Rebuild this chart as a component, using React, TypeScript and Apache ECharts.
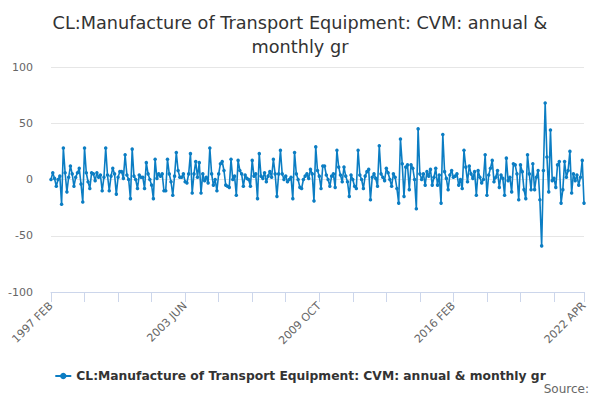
import React, { useEffect, useRef } from "react";
import * as echarts from "echarts";

const TITLE = "CL:Manufacture of Transport Equipment: CVM: annual &\nmonthly gr";
const SERIES_NAME = "CL:Manufacture of Transport Equipment: CVM: annual & monthly gr";
const MONTHS = ["JAN", "FEB", "MAR", "APR", "MAY", "JUN", "JUL", "AUG", "SEP", "OCT", "NOV", "DEC"];
const START_YEAR = 1997;
const START_MONTH = 1; // FEB

// 1997 FEB .. 2003 MAY
const values1997 = [
  0, 6, 1, -6, 0, 3, -22, 28, 6, -11,
  2, 12, 5, -6, 2, 6, 10, -4, -20, 28,
  6, -2, -8, 6, 5, -1, 6, 2, 4, -10,
  2, 28, 4, -10, 3, 10, 5, -13, 2, 7,
  7, 1, 22, 4, 0, -17, 27, 3, 0, -8,
  4, 2, 2, -8, 15, 5, 0, -5, -17, 18,
  1, 5, 3, 5, -10, -10, 18, 5, -2, -14,
  3, 24, 8, 2, 2, 5,
];
// 2003 JUN .. 2009 SEP
const values2003 = [
  -2, -3, 5, 23,
  -12, 5, 16, 2, 15, -12, 5, -1, 2, -3,
  28, 5, -5, 0, -10, 5, 14, 16, 8, -5,
  -6, -7, 18, 0, 3, -14, 17, 8, 5, -6,
  4, 1, 0, -6, 17, 3, 5, -17, 23, 3,
  1, 6, -2, 3, 7, 2, 18, 5, -15, 5,
  26, 5, 0, 3, -2, 0, 2, -17, 24, 5,
  0, -7, -8, 0, 3, 5, 1, 9, 5, -19,
  29, 8,
];
// 2009 OCT .. 2016 JAN
const values2009 = [
  3, -8, 12, 12, 4, 0, -6, 3,
  5, -7, 26, 11, 4, -2, 11, 3, -2, -15,
  4, 0, -6, -8, 26, 4, 0, -8, 3, 7,
  9, -18, 2, 5, 1, -6, 30, 5, 2, -1,
  10, 6, 0, -6, 5, 2, -8, -21, 36, 14,
  -15, 11, 13, -9, 13, 10, 0, -26, 45, 5,
  0, 5, -5, 7, 3, 9, -5, 2, 10, -5,
  4, -21, 40, 7, 1, -9, 4, 8,
];
// 2016 FEB .. 2022 APR
const values2016 = [
  2, 3,
  5, -5, 0, -8, 26, 11, -2, 12, 5, 1,
  7, -14, 8, 2, -3, 0, 22, -14, 4, 10,
  17, -2, 2, 8, -7, 4, 1, -14, 19, -1,
  2, -11, 14, 13, 5, -18, 13, 7, -9, -17,
  22, 5, -9, 14, -9, 2, 8, -18, -59, 8,
  68, 20, -11, 44, -1, 1, -7, 13, 16, -21,
  -9, 16, 2, 8, 25, -12, 5, -1, 4, -5,
  2, 17, -21,
];

const Y_TICKS = [-100, -50, 0, 50, 100];

export default function App() {
  const ref = useRef<HTMLDivElement>(null);
  useEffect(() => {
    const values = [...values1997, ...values2003, ...values2009, ...values2016];
    const categories = values.map((_, k) => {
      const m = START_MONTH + k;
      return `${START_YEAR + Math.floor(m / 12)} ${MONTHS[m % 12]}`;
    });
    const last = values.length - 1;
    const font = "DejaVu Sans";
    const chart = echarts.init(ref.current!, null, { renderer: "svg" });
    chart.setOption({
      animation: false,
      backgroundColor: "#ffffff",
      title: {
        text: TITLE,
        left: "center",
        top: 6,
        textStyle: { fontSize: 17.7, fontWeight: "normal", color: "#333333", lineHeight: 24, fontFamily: font },
      },
      legend: {
        data: [SERIES_NAME],
        left: "center",
        top: 365,
        itemWidth: 16,
        itemHeight: 8,
        itemGap: 6,
        textStyle: { fontSize: 12.3, fontWeight: "bold", color: "#333333", fontFamily: font },
      },
      graphic: [
        {
          type: "text",
          right: 11,
          top: 383,
          style: { text: "Source:", fontSize: 12, fill: "#666666", fontFamily: font },
        },
      ],
      grid: { left: 51, right: 16, top: 67, bottom: 108 },
      xAxis: {
        type: "category",
        data: categories,
        boundaryGap: false,
        axisLine: { onZero: false, lineStyle: { color: "#ccd6eb", width: 1 } },
        axisTick: {
          interval: (i: number) => i % 19 === 0 || i === last,
          length: 10,
          lineStyle: { color: "#ccd6eb" },
        },
        axisLabel: {
          interval: (i: number) => i % 76 === 0 || i === last,
          rotate: 45,
          fontSize: 11,
          color: "#666666",
          fontFamily: font,
          margin: 12,
        },
        splitLine: { show: false },
      },
      yAxis: {
        type: "value",
        min: Y_TICKS[0],
        max: Y_TICKS[Y_TICKS.length - 1],
        interval: 50,
        axisLine: { show: false },
        axisTick: { show: false },
        axisLabel: { fontSize: 11, color: "#666666", fontFamily: font, margin: 18 },
        splitLine: { lineStyle: { color: "#e6e6e6", width: 1 } },
      },
      series: [
        {
          name: SERIES_NAME,
          type: "line",
          data: values,
          symbol: "circle",
          symbolSize: 3.5,
          showSymbol: true,
          showAllSymbol: true,
          itemStyle: { color: "#0b7dc3" },
          lineStyle: { color: "#0b7dc3", width: 1.6 },
        },
      ],
    });
    return () => chart.dispose();
  }, []);
  return (
    <div
      ref={ref}
      style={{ position: "absolute", left: 0, top: 0, width: 600, height: 400 }}
    />
  );
}
